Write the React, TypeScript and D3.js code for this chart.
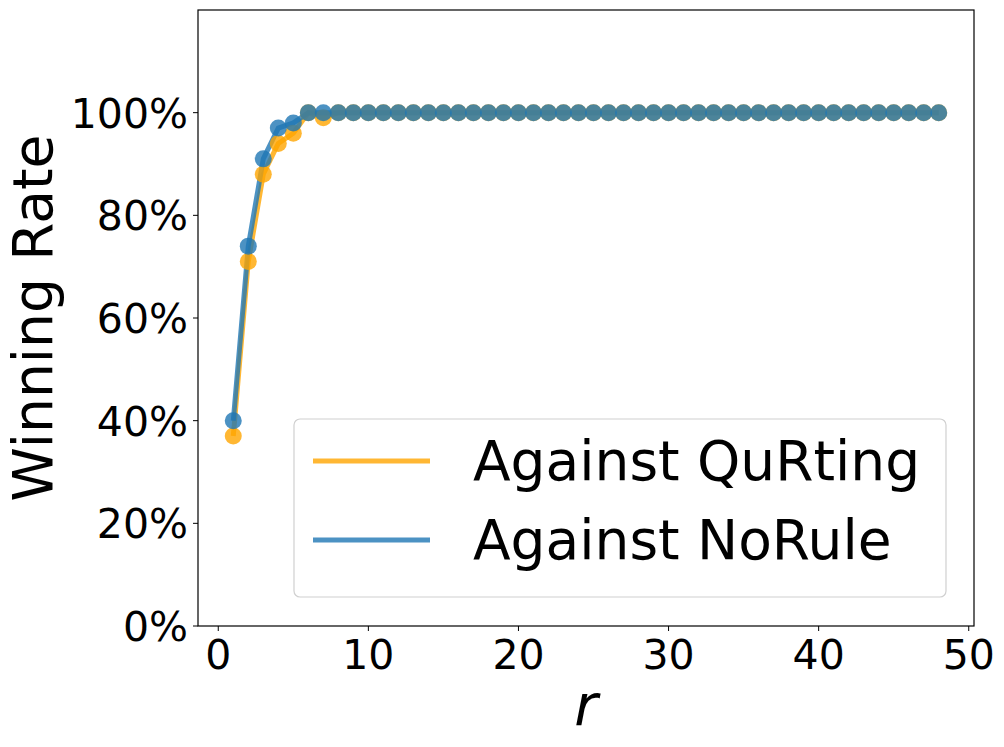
import * as d3 from "d3";

// r values 1..48
const rounds = [1, 2, 3, 4, 5, 6, 7, 8, 9, 10, 11, 12, 13, 14, 15, 16, 17, 18, 19, 20, 21, 22, 23, 24,
  25, 26, 27, 28, 29, 30, 31, 32, 33, 34, 35, 36, 37, 38, 39, 40, 41, 42, 43, 44, 45, 46, 47, 48];

const quRting = [0.37, 0.71, 0.88, 0.94, 0.96, 1.0, 0.99, 1.0, 1.0, 1.0, 1.0, 1.0, 1.0, 1.0, 1.0, 1.0,
  1.0, 1.0, 1.0, 1.0, 1.0, 1.0, 1.0, 1.0, 1.0, 1.0, 1.0, 1.0, 1.0, 1.0, 1.0, 1.0,
  1.0, 1.0, 1.0, 1.0, 1.0, 1.0, 1.0, 1.0, 1.0, 1.0, 1.0, 1.0, 1.0, 1.0, 1.0, 1.0];

const noRule = [0.40, 0.74, 0.91, 0.97, 0.98, 1.0, 1.0, 1.0, 1.0, 1.0, 1.0, 1.0, 1.0, 1.0, 1.0, 1.0,
  1.0, 1.0, 1.0, 1.0, 1.0, 1.0, 1.0, 1.0, 1.0, 1.0, 1.0, 1.0, 1.0, 1.0, 1.0, 1.0,
  1.0, 1.0, 1.0, 1.0, 1.0, 1.0, 1.0, 1.0, 1.0, 1.0, 1.0, 1.0, 1.0, 1.0, 1.0, 1.0];

const xTicks = [0, 10, 20, 30, 40, 50];
const yTicks = [0, 0.2, 0.4, 0.6, 0.8, 1.0];

const series = [
  { name: "Against QuRting", values: quRting, color: "orange" },
  { name: "Against NoRule", values: noRule, color: "#1f77b4" },
];

const W = 1004, H = 747;
const left = 198, right = 974, top = 10, bottom = 626;
const font = "DejaVu Sans, sans-serif";

export default function App() {
  const x = d3.scaleLinear().domain([-1.35, 50.35]).range([left, right]);
  const y = d3.scaleLinear().domain([0, 1.2]).range([bottom, top]);
  const line = d3.line<number>().x((_, i) => x(rounds[i])).y((v) => y(v));
  const pct = d3.format(".0%");

  return (
    <svg width={W} height={H} style={{ position: "absolute", left: 0, top: 0, background: "white" }}
      fontFamily={font}>
      <rect x={0} y={0} width={W} height={H} fill="white" />
      <defs>
        <clipPath id="plot">
          <rect x={left} y={top} width={right - left} height={bottom - top} />
        </clipPath>
      </defs>

      <g clipPath="url(#plot)">
        {series.map((s) => (
          <g key={s.name} opacity={0.8}>
            <path d={line(s.values) || ""} fill="none" stroke={s.color} strokeWidth={5} />
          </g>
        ))}
        {series.map((s) => (
          <g key={s.name + "-pts"}>
            {s.values.map((v, i) => (
              <circle key={i} cx={x(rounds[i])} cy={y(v)} r={8.5} fill={s.color} fillOpacity={0.8} />
            ))}
          </g>
        ))}
      </g>

      {/* axes frame */}
      <rect x={left} y={top} width={right - left} height={bottom - top} fill="none" stroke="black" strokeWidth={1.2} />

      {/* x ticks */}
      {xTicks.map((t) => (
        <g key={t} transform={`translate(${x(t)},${bottom})`}>
          <line y1={0} y2={5} stroke="black" strokeWidth={1} />
          <text y={43} textAnchor="middle" fontSize={41} fill="black">{t}</text>
        </g>
      ))}

      {/* y ticks */}
      {yTicks.map((t) => (
        <g key={t} transform={`translate(${left},${y(t)})`}>
          <line x1={0} x2={-5} stroke="black" strokeWidth={1} />
          <text x={-10} y={15} textAnchor="end" fontSize={41} fill="black">{pct(t)}</text>
        </g>
      ))}

      <text x={(left + right) / 2} y={725} textAnchor="middle" fontSize={57} fontStyle="italic" fill="black">r</text>
      <text transform={`translate(52,${(top + bottom) / 2}) rotate(-90)`} textAnchor="middle" fontSize={55} fill="black">
        Winning Rate
      </text>

      {/* legend */}
      <g>
        <rect x={294} y={419} width={652} height={178} rx={6} fill="white" fillOpacity={0.8} stroke="#d0d0d0" strokeWidth={1.2} />
        {series.map((s, i) => (
          <g key={s.name} transform={`translate(0,${461 + i * 79})`}>
            <line x1={313} x2={430} stroke={s.color} strokeOpacity={0.8} strokeWidth={5} />
            <text x={473} y={19} fontSize={55} fill="black">{s.name}</text>
          </g>
        ))}
      </g>
    </svg>
  );
}
